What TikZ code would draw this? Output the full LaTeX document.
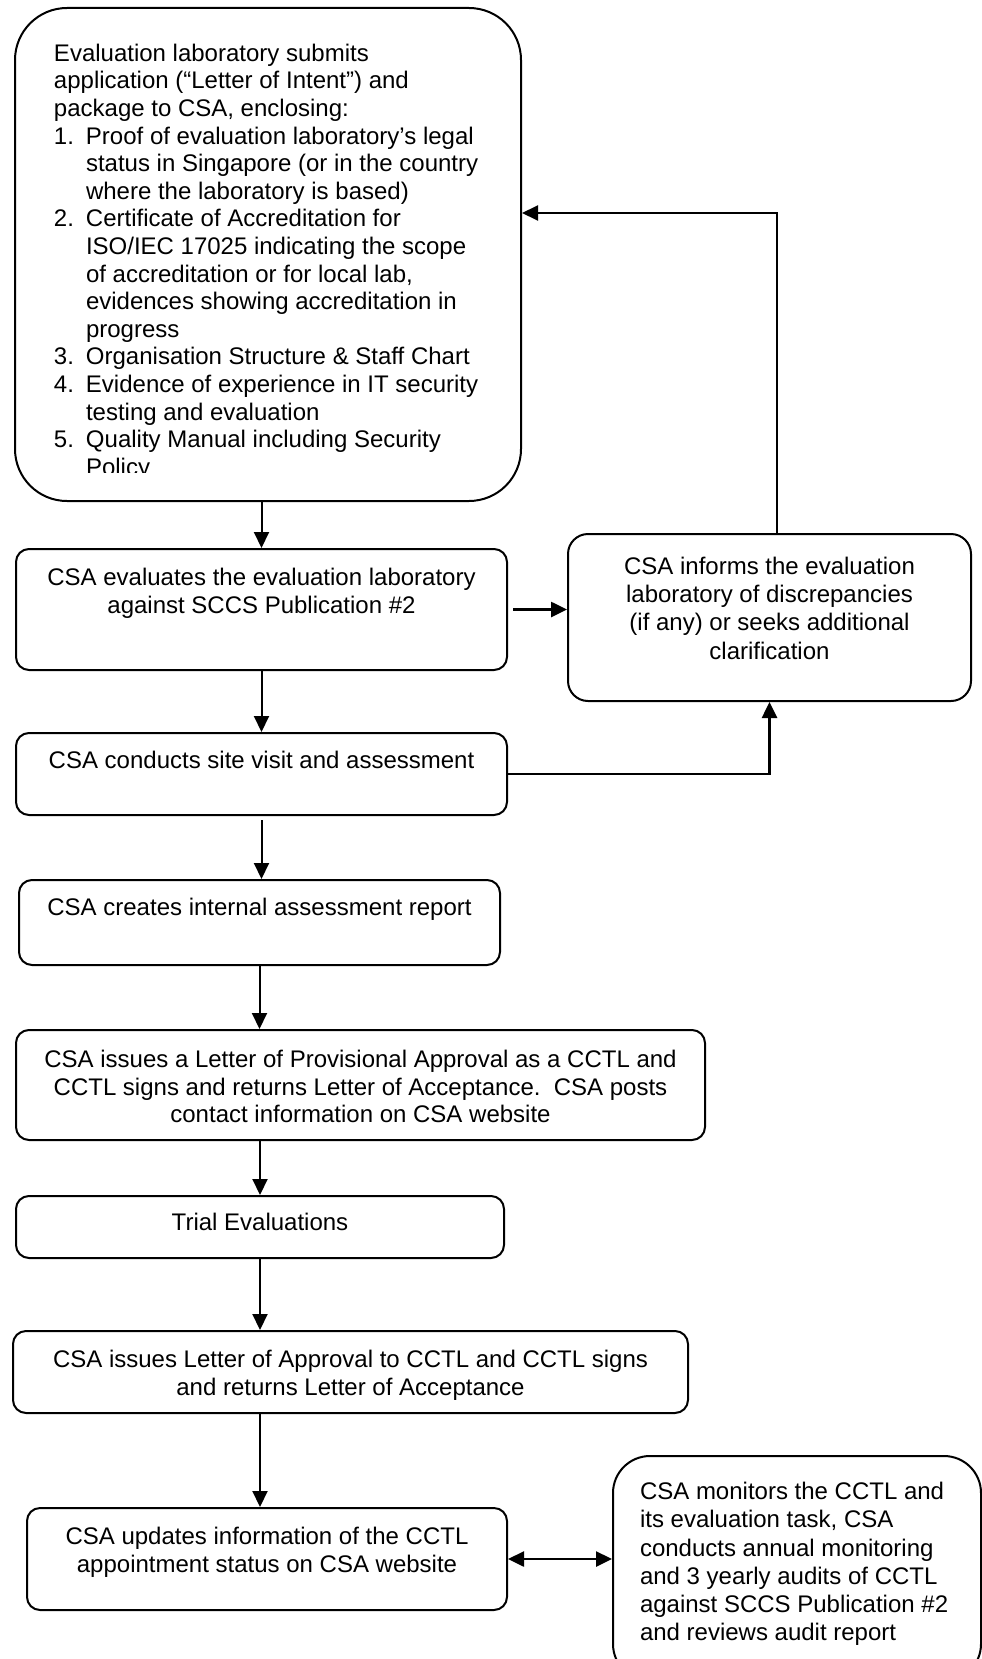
\documentclass[tikz,border=0pt]{standalone}
\usepackage{fontspec}
\setmainfont{Liberation Sans}
\usetikzlibrary{arrows.meta}
\newcommand{\cbox}[4]{\vbox to #2{\hsize=#1\relax\parindent=0pt\vskip#3\relax\centering #4\par\vss}}
\newcommand{\lbox}[5]{\vbox to #2{\hsize=#1\relax\parindent=0pt\vskip#3\relax\raggedright\leftskip=#4\relax #5\par\vss}}
\newcommand{\bline}[1]{\hbox{\hskip39pt #1}}
\newcommand{\bitem}[2]{\hbox{\hskip39pt\hbox to 32pt{#1\hss}#2}}
\newcommand{\bcont}[1]{\hbox{\hskip71pt #1}}
\tikzset{
  bx/.style={draw, line width=2pt, rounded corners=13pt, inner sep=0pt, anchor=north west},
  arr/.style={line width=2pt, -{Triangle[length=16pt,width=15pt]}},
  darr/.style={line width=2.5pt, {Triangle[length=16pt,width=15pt]}-{Triangle[length=16pt,width=15pt]}},
}
\begin{document}
\begin{tikzpicture}[x=1pt, y=-1pt, font=\fontsize{24}{28}\selectfont]
\clip (0,0) rectangle (982,1659);
\fill[white] (0,0) rectangle (982,1659);
\begin{scope}[even odd rule]
\clip (0,0) rectangle (982,1659) (80,472) rectangle (400,497);
\node[bx, rounded corners=52pt] (b1) at (14,7) {\vbox to 493pt{\hrule height0pt depth0pt width506pt\baselineskip=27.6pt\vskip36pt
\bline{Evaluation laboratory submits}
\bline{application (“Letter of Intent”) and}
\bline{package to CSA, enclosing:}
\bitem{1.}{Proof of evaluation laboratory’s legal}
\bcont{status in Singapore (or in the country}
\bcont{where the laboratory is based)}
\bitem{2.}{Certificate of Accreditation for}
\bcont{ISO/IEC 17025 indicating the scope}
\bcont{of accreditation or for local lab,}
\bcont{evidences showing accreditation in}
\bcont{progress}
\bitem{3.}{Organisation Structure \& Staff Chart}
\bitem{4.}{Evidence of experience in IT security}
\bcont{testing and evaluation}
\bitem{5.}{Quality Manual including Security}
\bcont{Policy}
\vss}};
\end{scope}
\node[bx] (b2) at (15,548) {\cbox{491pt}{121pt}{19pt}{CSA evaluates the evaluation laboratory\\ against SCCS Publication \#2}};
\node[bx] (b3) at (15,732) {\cbox{491pt}{82pt}{18pt}{CSA conducts site visit and assessment}};
\node[bx] (b4) at (18,879) {\cbox{481pt}{85pt}{18pt}{CSA creates internal assessment report}};
\node[bx] (b5) at (15,1029) {\cbox{689pt}{110pt}{20pt}{\baselineskip=27.7pt CSA issues a Letter of Provisional Approval as a CCTL and\\ CCTL signs and returns Letter of Acceptance.\ \ CSA posts\\ contact information on CSA website}};
\node[bx] (b6) at (15,1195) {\cbox{488pt}{62pt}{17pt}{Trial Evaluations}};
\node[bx] (b7) at (12,1330) {\cbox{675pt}{82pt}{19pt}{CSA issues Letter of Approval to CCTL and CCTL signs\\ and returns Letter of Acceptance}};
\node[bx] (b8) at (26,1507) {\cbox{480pt}{102pt}{19pt}{CSA updates information of the CCTL\\ appointment status on CSA website}};
\node[bx, rounded corners=20pt] (inf) at (567,533) {\cbox{403pt}{167pt}{23pt}{\baselineskip=28.3pt CSA informs the evaluation\\ laboratory of discrepancies\\ (if any) or seeks additional\\ clarification}};
\node[bx, rounded corners=37pt] (mon) at (612,1455) {\lbox{368pt}{225pt}{26pt}{27pt}{\baselineskip=28.3pt CSA monitors the CCTL and\\ its evaluation task, CSA\\ conducts annual monitoring\\ and 3 yearly audits of CCTL\\ against SCCS Publication \#2\\ and reviews audit report}};
\coordinate (fb) at (777,213);
\draw[arr] (b2.north |- b1.south) -- (b2.north);
\draw[arr] (b2.south) -- (b3.north);
\draw[arr, shorten <=4pt] (b3.south) -- (b3.south |- b4.north);
\draw[arr] (b4.south) -- (b4.south |- b5.north);
\draw[arr] (b6.north |- b5.south) -- (b6.north);
\draw[arr] (b6.south) -- (b6.south |- b7.north);
\draw[arr] (b6.south |- b7.south) -- (b6.south |- b8.north);
\draw[arr, line width=2.6pt, shorten <=5pt] (b2.east) -- (inf.west |- b2.east);
\draw[arr] (inf.north -| fb) -- (fb) -- (b1.east |- fb);
\draw[arr, line width=2.6pt] (b3.east) -| (inf.south);
\draw[darr] (b8.east) -- (mon.west |- b8.east);
\end{tikzpicture}
\end{document}
